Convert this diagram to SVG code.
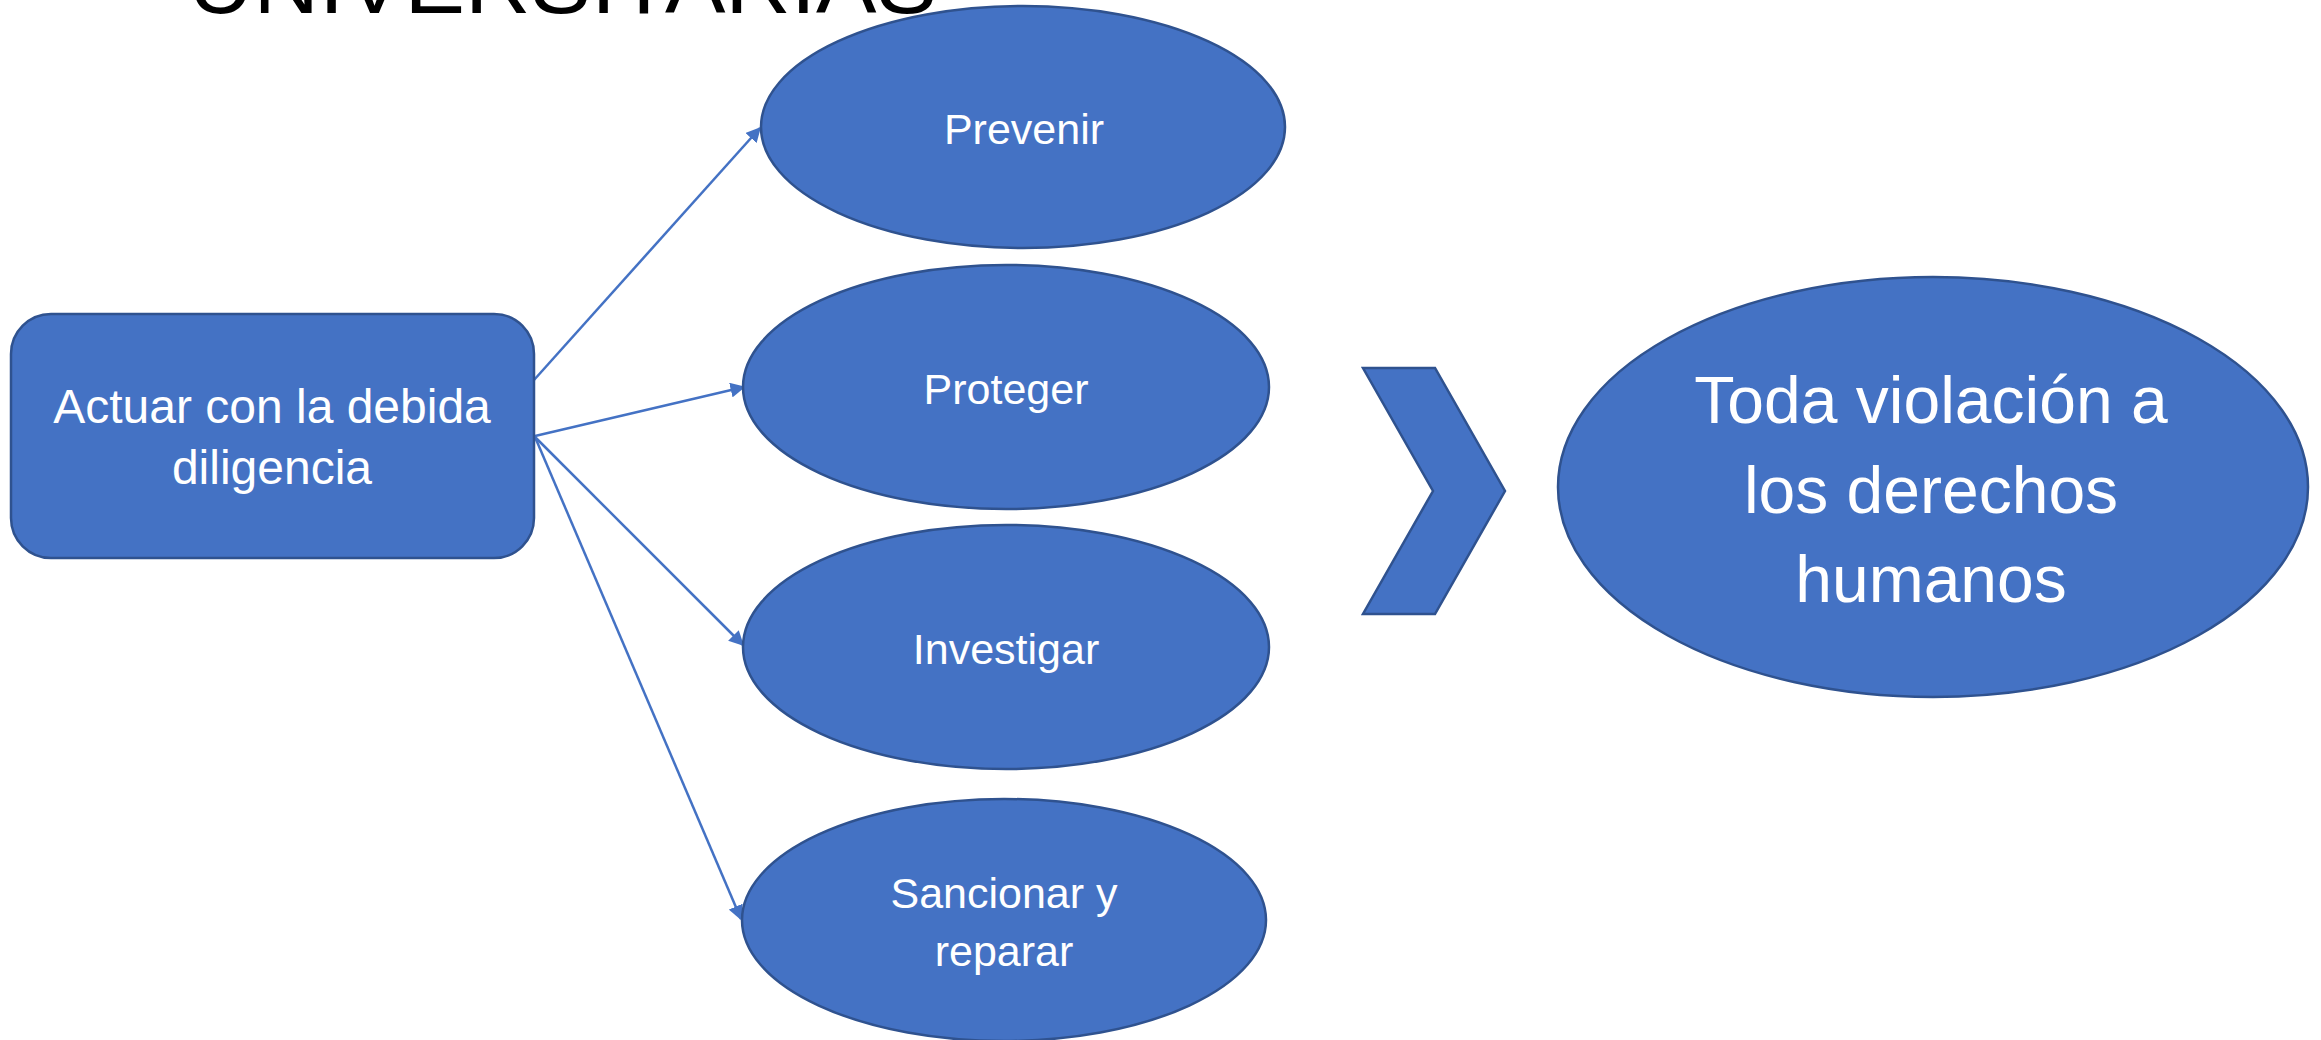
<svg xmlns="http://www.w3.org/2000/svg" width="2321" height="1040" viewBox="0 0 2321 1040">
  <defs>
    <marker id="arr" viewBox="0 0 10 10" refX="9" refY="5" markerWidth="6" markerHeight="6" markerUnits="strokeWidth" orient="auto">
      <path d="M0,0 L10,5 L0,10 z" fill="#4472C4"/>
    </marker>
    <style>
      .shape { fill: #4472C4; stroke: #2F528F; stroke-width: 2.5; }
      .lbl { fill: #FFFFFF; font-family: "Liberation Sans", Arial, sans-serif; text-anchor: middle; }
      .conn { stroke: #4472C4; stroke-width: 2.5; fill: none; marker-end: url(#arr); }
    </style>
  </defs>
  <rect width="2321" height="1040" fill="#FFFFFF"/>

  <text x="188" y="13" font-family="Liberation Sans, Arial, sans-serif" font-size="88" fill="#000000" textLength="749" lengthAdjust="spacingAndGlyphs">UNIVERSITARIAS</text>

  <g id="connectors">
    <line class="conn" x1="534" y1="380" x2="760" y2="128"/>
    <line class="conn" x1="535" y1="436" x2="744" y2="387"/>
    <line class="conn" x1="535" y1="437" x2="743" y2="645"/>
    <line class="conn" x1="535" y1="437" x2="741" y2="919"/>
  </g>

  <g id="node-actuar">
    <rect class="shape" x="11" y="314" width="523" height="244" rx="40" ry="40"/>
    <text class="lbl" font-size="48" x="272" y="423">Actuar con la debida</text>
    <text class="lbl" font-size="48" x="272" y="484">diligencia</text>
  </g>

  <g id="node-prevenir">
    <ellipse class="shape" cx="1023" cy="127" rx="262" ry="121"/>
    <text class="lbl" font-size="43" x="1024" y="144">Prevenir</text>
  </g>

  <g id="node-proteger">
    <ellipse class="shape" cx="1006" cy="387" rx="263" ry="122"/>
    <text class="lbl" font-size="43" x="1006" y="404">Proteger</text>
  </g>

  <g id="node-investigar">
    <ellipse class="shape" cx="1006" cy="647" rx="263" ry="122"/>
    <text class="lbl" font-size="43" x="1006" y="664">Investigar</text>
  </g>

  <g id="node-sancionar">
    <ellipse class="shape" cx="1004" cy="920" rx="262" ry="121"/>
    <text class="lbl" font-size="43" x="1004" y="908">Sancionar y</text>
    <text class="lbl" font-size="43" x="1004" y="966">reparar</text>
  </g>

  <g id="node-chevron">
    <polygon class="shape" points="1363,368 1435,368 1505,491 1435,614 1363,614 1433,491"/>
  </g>

  <g id="node-violacion">
    <ellipse class="shape" cx="1933" cy="487" rx="375" ry="210"/>
    <text class="lbl" font-size="66" x="1931" y="423">Toda violación a</text>
    <text class="lbl" font-size="66" x="1931" y="513">los derechos</text>
    <text class="lbl" font-size="66" x="1931" y="602">humanos</text>
  </g>
</svg>
